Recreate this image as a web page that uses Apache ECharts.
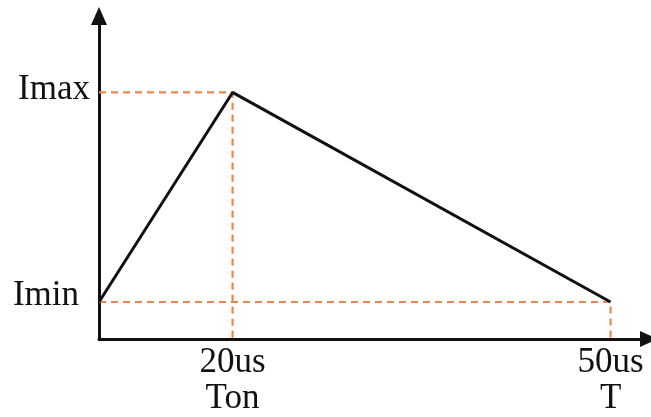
<!DOCTYPE html>
<html>
<head>
<meta charset="utf-8">
<script src="https://cdn.jsdelivr.net/npm/echarts@6/dist/echarts.min.js"></script>
<style>
  html, body { margin: 0; padding: 0; background: #fff; }
  #chart { width: 651px; height: 417px; }
</style>
</head>
<body>
<div id="chart"></div>
<script>
// Triangular current waveform over one switching period (time in us, current normalised to Imax)
const times = [9.4, 20, 50];          // start at the axis, peak at Ton, end at T
const currents = [0.15, 1.0, 0.15];   // Imin -> Imax -> Imin
const xTicks = [20, 50];
const xTickLabels = ['20us\nTon', '50us\nT'];
const yTicks = [0.15, 1.0];
const yTickLabels = ['Imin', 'Imax'];

const tOn = times[1];
const period = times[2];
const iMin = currents[0];
const iMax = currents[1];
const tStart = times[0];

const waveform = times.map((t, i) => [t, currents[i]]);
// guide lines from the axes to the peak and to the end of the period
const guideMax = [[tStart, iMax], [tOn, iMax], [tOn, 0]];
const guideMin = [[tStart, iMin], [period, iMin], [period, 0]];

const serif = '"Liberation Serif", "Times New Roman", serif';
const guideColor = '#EE8645';

const arrowAxisLine = {
  onZero: false,
  lineStyle: { color: '#111', width: 3 },
  symbol: ['none', 'triangle'],
  symbolSize: [16, 18]
};

const chart = echarts.init(document.getElementById('chart'));
chart.setOption({
  animation: false,
  grid: { left: 99, right: 2, top: 16, bottom: 76 },
  xAxis: {
    type: 'value',
    min: tStart,
    max: 53.05,
    splitLine: { show: false },
    axisTick: { show: false },
    axisLine: arrowAxisLine,
    axisLabel: {
      customValues: xTicks,
      formatter: v => xTickLabels[xTicks.indexOf(v)],
      fontFamily: serif,
      fontSize: 35,
      lineHeight: 36,
      color: '#111',
      margin: 6
    }
  },
  yAxis: {
    type: 'value',
    min: 0,
    max: 1.31,
    splitLine: { show: false },
    axisTick: { show: false },
    axisLine: arrowAxisLine,
    axisLabel: {
      customValues: yTicks,
      formatter: v => {
        const name = yTickLabels[yTicks.indexOf(v)];
        return '{' + (name === 'Imax' ? 'hi' : 'lo') + '|' + name + '}';
      },
      margin: 9,
      rich: {
        hi: { fontFamily: serif, fontSize: 35, color: '#111', padding: [0, 0, 6, 0] },
        lo: { fontFamily: serif, fontSize: 35, color: '#111', padding: [0, 11, 13, 0] }
      }
    }
  },
  series: [
    {
      type: 'line',
      data: guideMax,
      symbol: 'none',
      z: 1,
      lineStyle: { color: guideColor, width: 2.2, type: [7, 5] }
    },
    {
      type: 'line',
      data: guideMin,
      symbol: 'none',
      z: 1,
      lineStyle: { color: guideColor, width: 2.2, type: [7, 5] }
    },
    {
      type: 'line',
      data: waveform,
      symbol: 'none',
      z: 3,
      lineStyle: { color: '#111', width: 3 }
    }
  ]
});
</script>
</body>
</html>
